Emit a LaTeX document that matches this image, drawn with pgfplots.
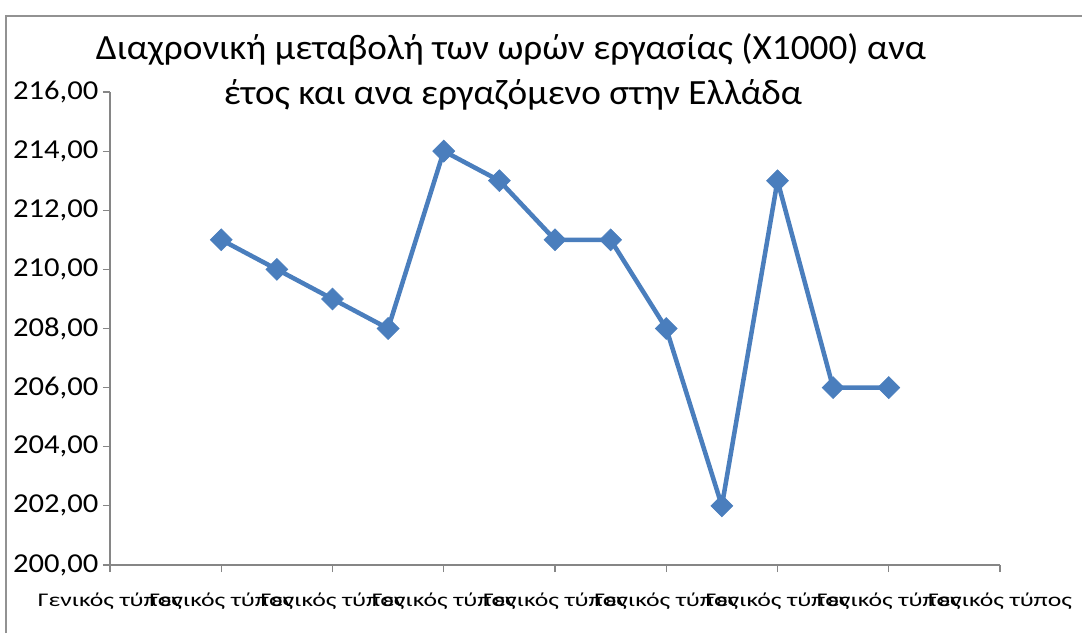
\documentclass[border=0pt]{standalone}
\usepackage{pgfplots}
\pgfplotsset{compat=1.18}
\usepackage{fontspec}
\setmainfont{Carlito}
\newfontfamily\titlefont{Carlito}[FakeStretch=1.05]
\newfontfamily\xfont{Carlito}[FakeStretch=1.33]
\newfontfamily\yfont{Carlito}[FakeStretch=1.12]
\definecolor{lineblue}{HTML}{4A7EBD}
\definecolor{axgray}{HTML}{868686}
\begin{document}
\begin{tikzpicture}[x=0.75pt,y=0.75pt]
\path[use as bounding box] (0,0) rectangle (1082,633);
\draw[axgray!90, line width=1.5pt] (6,0) -- (6,617) -- (1082,617);
\node[anchor=base, inner sep=0pt, font=\titlefont\fontsize{26.6}{32}\selectfont] at (511,573) {Διαχρονική μεταβολή των ωρών εργασίας (Χ1000) ανα};
\node[anchor=base, inner sep=0pt, font=\titlefont\fontsize{26.6}{32}\selectfont] at (513,528.5) {έτος και ανα εργαζόμενο στην Ελλάδα};
\begin{axis}[
 at={(82.5pt,51pt)}, anchor=south west,
 scale only axis, width=667.5pt, height=354.75pt,
 xmin=0, xmax=16, ymin=200, ymax=216,
 axis lines=left, axis line style={axgray, -, line width=0.8pt},
 xtick={0,2,...,16},
 xticklabels={Γενικός τύπος,Γενικός τύπος,Γενικός τύπος,Γενικός τύπος,Γενικός τύπος,Γενικός τύπος,Γενικός τύπος,Γενικός τύπος,Γενικός τύπος},
 ytick={200,202,...,216},
 tick style={axgray, line width=0.8pt},
 tick align=outside, major tick length=5.25pt,
 yticklabel style={font=\yfont\fontsize{20.5}{23}\selectfont, text=black,
   /pgf/number format/.cd, fixed, fixed zerofill, precision=2, use comma, 1000 sep={}, assume math mode=true},
 xticklabel style={font=\xfont\fontsize{14.5}{17}\selectfont, text=black, yshift=-12pt},
 clip=false,
]
\addplot[lineblue, line width=3.4pt, mark=square*, mark size=5.8pt,
  mark options={rotate=45, fill=lineblue, draw=lineblue, line width=0.5pt, solid}]
 coordinates {(2,211) (3,210) (4,209) (5,208) (6,214) (7,213) (8,211) (9,211) (10,208) (11,202) (12,213) (13,206) (14,206)};
\end{axis}
\end{tikzpicture}
\end{document}
